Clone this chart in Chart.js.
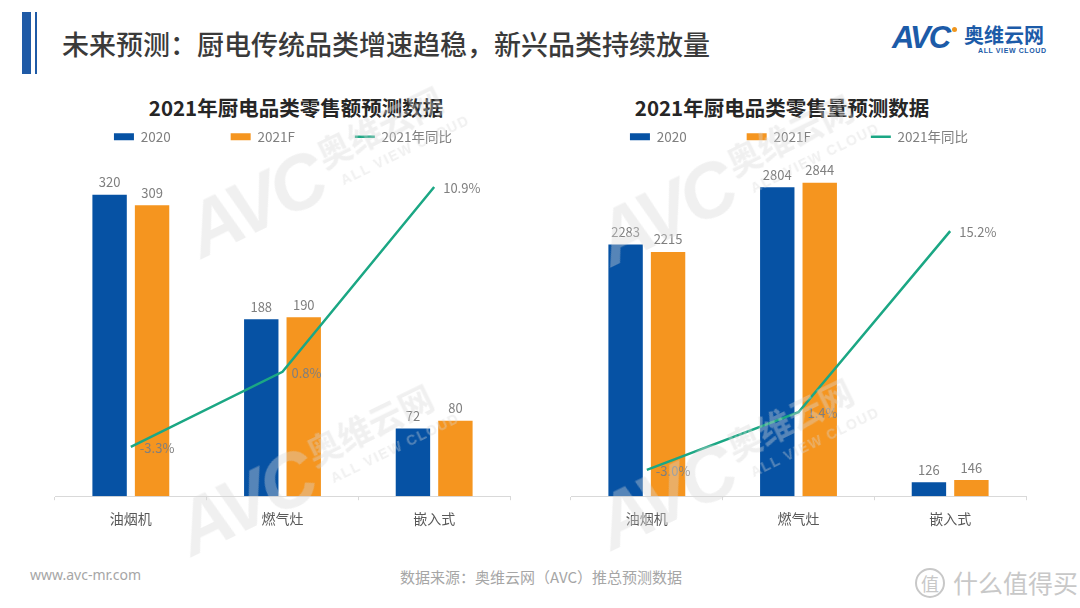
<!DOCTYPE html>
<html>
<head>
<meta charset="utf-8">
<script src="https://cdn.jsdelivr.net/npm/chart.js@4.4.1/dist/chart.umd.min.js"></script>
<style>
  html, body { margin:0; padding:0; background:#fff; }
  body { width:1080px; height:608px; position:relative; overflow:hidden;
         font-family:"Noto Sans CJK SC","Noto Sans",sans-serif; }
  .abs { position:absolute; white-space:nowrap; }
  #barThick { left:22px; top:12px; width:9px; height:62px; background:#1f5aa6; }
  #barThin { left:35px; top:12px; width:2px; height:62px; background:#1f5aa6; }
  #heading { left:62px; top:24px; font-size:27px; line-height:40px; color:#3a3a3a; font-weight:500; }
  .ctitle { top:93px; font-size:20.5px; line-height:28px; color:#262626; font-weight:bold; transform:translateX(-50%); }
  #t1 { left:296px; }
  #t2 { left:782px; }
  canvas { position:absolute; }
  #c1 { left:20px; top:100px; }
  #c2 { left:536px; top:100px; }
  #foot1 { left:30px; top:565px; font-size:14px; color:#a6a6a6; font-family:"Noto Sans","DejaVu Sans",sans-serif; }
  #foot2 { left:541px; top:566px; font-size:15px; color:#a6a6a6; transform:translateX(-50%); }
  #smzdm { left:915px; top:564px; font-size:25px; color:#c8c8c8; }
  #smzdm .ring { display:inline-block; width:26px; height:26px; border:2px solid #c8c8c8; border-radius:50%;
     font-size:18px; line-height:26px; text-align:center; margin-right:8px; vertical-align:2px; }
  #logoA { left:892px; top:20px; font-size:31px; font-weight:900; font-style:italic; color:#1c5ba8;
     font-family:"Liberation Sans",Arial,sans-serif; letter-spacing:-2px; line-height:36px; }
  #logoDot { left:952px; top:27px; width:5px; height:5px; border-radius:50%; background:#f0961e; }
  #logoCn { left:964px; top:22px; font-size:20px; font-weight:bold; color:#1c5ba8; line-height:26px; }
  #logoEn { left:978px; top:47px; font-size:7px; font-weight:bold; color:#1c5ba8; letter-spacing:0.6px;
     font-family:"Liberation Sans",Arial,sans-serif; }
  .wm { position:absolute; width:300px; height:90px; transform:translate(-50%,-50%) rotate(-26deg);
        color:rgba(215,215,215,0.38); pointer-events:none; z-index:5; white-space:nowrap; }
  .wm span { position:absolute; white-space:nowrap; }
  .wm .a { left:0; top:0; font-family:"Liberation Sans",Arial,sans-serif; font-weight:900;
        font-style:italic; font-size:76px; line-height:90px; letter-spacing:-4px; }
  .wm .c { left:150px; top:8px; font-weight:bold; font-size:34px; line-height:44px; }
  .wm .e { left:160px; top:54px; font-family:"Liberation Sans",Arial,sans-serif; font-weight:bold;
        font-size:14px; letter-spacing:1.5px; }
</style>
</head>
<body>
<div id="barThick" class="abs"></div>
<div id="barThin" class="abs"></div>
<div id="heading" class="abs">未来预测：厨电传统品类增速趋稳，新兴品类持续放量</div>
<div id="logoA" class="abs">AVC</div>
<div id="logoDot" class="abs"></div>
<div id="logoCn" class="abs">奥维云网</div>
<div id="logoEn" class="abs">ALL VIEW CLOUD</div>

<div id="t1" class="abs ctitle">2021年厨电品类零售额预测数据</div>
<div id="t2" class="abs ctitle">2021年厨电品类零售量预测数据</div>
<canvas id="c1" width="530" height="440"></canvas>
<canvas id="c2" width="530" height="440"></canvas>

<div class="wm" style="left:325px;top:170px"><span class="a">AVC</span><span class="c">奥维云网</span><span class="e">ALL VIEW CLOUD</span></div>
<div class="wm" style="left:315px;top:468px"><span class="a">AVC</span><span class="c">奥维云网</span><span class="e">ALL VIEW CLOUD</span></div>
<div class="wm" style="left:735px;top:178px"><span class="a">AVC</span><span class="c">奥维云网</span><span class="e">ALL VIEW CLOUD</span></div>
<div class="wm" style="left:735px;top:462px"><span class="a">AVC</span><span class="c">奥维云网</span><span class="e">ALL VIEW CLOUD</span></div>

<div id="foot1" class="abs">www.avc-mr.com</div>
<div id="foot2" class="abs">数据来源：奥维云网（AVC）推总预测数据</div>
<div id="smzdm" class="abs"><span class="ring">值</span>什么值得买</div>

<script>
// ---- data ----
const categories = ['油烟机', '燃气灶', '嵌入式'];
const seriesNames = ['2020', '2021F', '2021年同比'];

const salesValue2020 = [320, 188, 72];
const salesValue2021F = [309, 190, 80];
const salesValueYoY = [-3.3, 0.8, 10.9];

const salesVolume2020 = [2283, 2804, 126];
const salesVolume2021F = [2215, 2844, 146];
const salesVolumeYoY = [-3.0, 1.4, 15.2];

// ---- styles ----
const BLUE = '#0652a4', ORANGE = '#f5951f', GREEN = '#1ba784';
const LABEL_GRAY = '#7f7f7f';
const FONT = '"Noto Sans CJK SC","Noto Sans",sans-serif';

const legendFit = {
  id: 'legendFit',
  beforeLayout(chart) {
    const lg = chart.legend;
    if (lg && !lg._patched) {
      const fit = lg.fit;
      lg.fit = function () { fit.call(this); this.height = 106; };
      lg._patched = true;
    }
  }
};

const valueLabels = {
  id: 'valueLabels',
  afterDatasetsDraw(chart) {
    const ctx = chart.ctx;
    ctx.save();
    ctx.font = '13px ' + FONT;
    ctx.fillStyle = LABEL_GRAY;
    chart.data.datasets.forEach((ds, i) => {
      const meta = chart.getDatasetMeta(i);
      meta.data.forEach((el, j) => {
        const v = ds.data[j];
        if (ds.type === 'line') {
          ctx.textAlign = 'left';
          ctx.textBaseline = 'middle';
          ctx.fillText(v.toFixed(1) + '%', el.x + 9, el.y + 1);
        } else {
          ctx.textAlign = 'center';
          ctx.textBaseline = 'bottom';
          ctx.fillText(String(v), el.x, el.y - 6);
        }
      });
    });
    ctx.restore();
  }
};

function hiddenAxis(min, max, position, width) {
  return {
    display: true, position, min, max,
    ticks: { display: false },
    grid: { display: false, drawTicks: false },
    border: { display: false },
    afterFit(scale) { scale.width = width; }
  };
}

function makeChart(id, d2020, d2021, yoy, yMax, y1Min, y1Max) {
  return new Chart(document.getElementById(id), {
    data: {
      labels: categories,
      datasets: [
        { type: 'bar', label: seriesNames[0], data: d2020, backgroundColor: BLUE, yAxisID: 'y',
          barPercentage: 0.81, categoryPercentage: 0.56, order: 1 },
        { type: 'bar', label: seriesNames[1], data: d2021, backgroundColor: ORANGE, yAxisID: 'y',
          barPercentage: 0.81, categoryPercentage: 0.56, order: 1 },
        { type: 'line', label: seriesNames[2], data: yoy, borderColor: GREEN, backgroundColor: GREEN,
          borderWidth: 2.5, pointRadius: 0, tension: 0, yAxisID: 'y1', order: 0 }
      ]
    },
    options: {
      responsive: false,
      animation: false,
      events: [],
      layout: { padding: { left: 15, right: 19, top: -30, bottom: 3 } },
      plugins: {
        title: { display: false },
        tooltip: { enabled: false },
        legend: {
          position: 'top',
          labels: {
            usePointStyle: true,
            pointStyleWidth: 20,
            boxHeight: 7,
            padding: 60,
            color: LABEL_GRAY,
            font: { size: 13.5, family: FONT },
            sort: (a, b) => a.datasetIndex - b.datasetIndex,
            generateLabels(chart) {
              return chart.data.datasets.map((ds, i) => ({
                text: ds.label,
                fillStyle: ds.type === 'line' ? GREEN : ds.backgroundColor,
                strokeStyle: ds.type === 'line' ? GREEN : ds.backgroundColor,
                lineWidth: ds.type === 'line' ? 2.5 : 0,
                pointStyle: ds.type === 'line' ? 'line' : 'rect',
                fontColor: LABEL_GRAY,
                datasetIndex: i,
                hidden: false
              }));
            }
          }
        }
      },
      scales: {
        x: {
          type: 'category',
          offset: true,
          grid: { display: true, drawOnChartArea: false, drawTicks: true, tickLength: 4,
                  color: '#d9d9d9', offset: true },
          border: { display: true, color: '#d9d9d9' },
          ticks: { color: '#595959', font: { size: 14, family: FONT }, padding: 10 }
        },
        y: hiddenAxis(0, yMax, 'left', 20),
        y1: hiddenAxis(y1Min, y1Max, 'right', 21)
      }
    },
    plugins: [legendFit, valueLabels]
  });
}

makeChart('c1', salesValue2020, salesValue2021F, salesValueYoY, 340, -6, 11.5);
makeChart('c2', salesVolume2020, salesVolume2021F, salesVolumeYoY, 2905, -5, 19.4);
</script>
</body>
</html>
